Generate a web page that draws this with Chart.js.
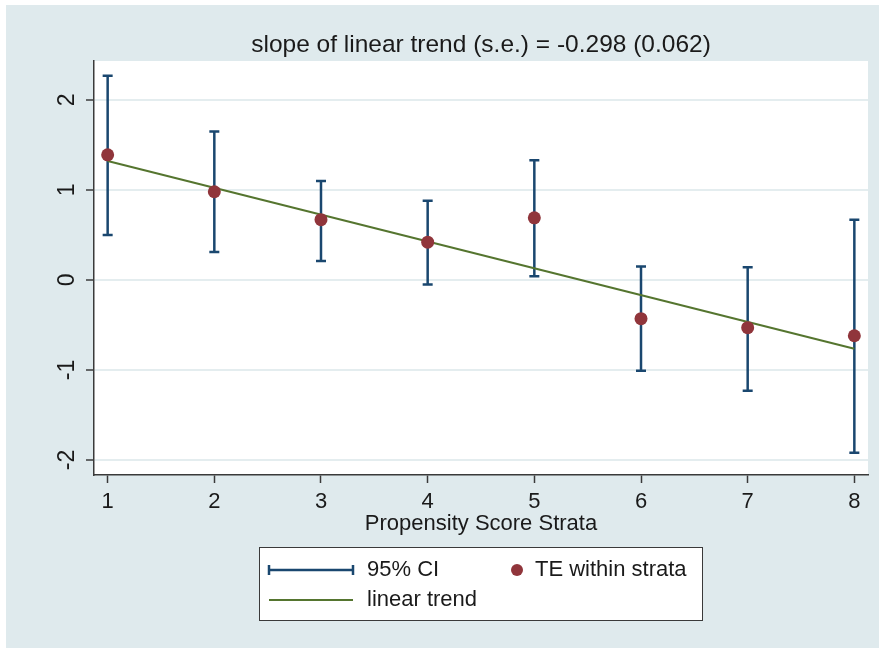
<!DOCTYPE html>
<html>
<head>
<meta charset="utf-8">
<script src="https://cdn.jsdelivr.net/npm/chart.js@4.4.0/dist/chart.umd.min.js"></script>
<style>
  html, body { margin: 0; padding: 0; background: #fff; }
  #wrap { width: 879px; height: 648px; }
</style>
</head>
<body>
<div id="wrap"><canvas id="chart" width="879" height="648"></canvas></div>
<script>
// Data
const strata = [1, 2, 3, 4, 5, 6, 7, 8];
const teValues = [1.39, 0.98, 0.67, 0.42, 0.69, -0.43, -0.53, -0.62];
const ciLower = [0.50, 0.31, 0.21, -0.05, 0.04, -1.01, -1.23, -1.92];
const ciUpper = [2.27, 1.65, 1.10, 0.88, 1.33, 0.15, 0.14, 0.67];
const trendX = [1, 8];
const trendY = [1.322, -0.764];
const xTicks = [1, 2, 3, 4, 5, 6, 7, 8];
const yTicks = [-2, -1, 0, 1, 2];

const titleText = 'slope of linear trend (s.e.) = -0.298 (0.062)';
const xTitle = 'Propensity Score Strata';

const FONT = "'Liberation Sans', Arial, sans-serif";
const TEXT = '#1a1a1a';
const NAVY = '#1a476f';
const MAROON = '#90353b';
const GREEN = '#55752f';
const BG = '#dfeaed';
const GRID = '#e4edef';
const AXIS = '#3a3a3a';

// Background: light outer region, white plot region
const backgroundPlugin = {
  id: 'background',
  beforeDraw(chart) {
    const { ctx, chartArea } = chart;
    ctx.save();
    ctx.fillStyle = '#ffffff';
    ctx.fillRect(0, 0, chart.width, chart.height);
    ctx.fillStyle = BG;
    ctx.fillRect(6, 5, chart.width - 6, chart.height - 5);
    ctx.fillStyle = '#ffffff';
    ctx.fillRect(chartArea.left, chartArea.top, chartArea.right - chartArea.left, chartArea.bottom - chartArea.top);
    ctx.restore();
  }
};

// 95% CI capped spikes, drawn under the line and points
const ciPlugin = {
  id: 'ciBars',
  beforeDatasetsDraw(chart) {
    const { ctx } = chart;
    const xs = chart.scales.x;
    const ys = chart.scales.y;
    ctx.save();
    ctx.strokeStyle = NAVY;
    ctx.lineWidth = 2.5;
    strata.forEach((s, i) => {
      const px = xs.getPixelForValue(s);
      const lo = ys.getPixelForValue(ciLower[i]);
      const hi = ys.getPixelForValue(ciUpper[i]);
      ctx.beginPath();
      ctx.moveTo(px, lo);
      ctx.lineTo(px, hi);
      ctx.moveTo(px - 5, lo);
      ctx.lineTo(px + 5, lo);
      ctx.moveTo(px - 5, hi);
      ctx.lineTo(px + 5, hi);
      ctx.stroke();
    });
    ctx.restore();
  }
};

// Title, rotated y tick labels and the boxed legend
const overlayPlugin = {
  id: 'overlay',
  afterDraw(chart) {
    const { ctx, chartArea } = chart;
    const ys = chart.scales.y;
    ctx.save();

    // title
    ctx.fillStyle = TEXT;
    ctx.font = '24.5px ' + FONT;
    ctx.textAlign = 'center';
    ctx.textBaseline = 'middle';
    ctx.fillText(titleText, (chartArea.left + chartArea.right) / 2, 45);

    // y tick labels, rotated like Stata
    ctx.font = '23px ' + FONT;
    yTicks.forEach(v => {
      const py = ys.getPixelForValue(v);
      ctx.save();
      ctx.translate(68, py);
      ctx.rotate(-Math.PI / 2);
      ctx.fillText(String(v), 0, 0);
      ctx.restore();
    });

    // legend box
    ctx.fillStyle = '#ffffff';
    ctx.fillRect(259, 547, 443, 73);
    ctx.strokeStyle = AXIS;
    ctx.lineWidth = 1;
    ctx.strokeRect(259.5, 547.5, 443, 73);

    // 95% CI key
    ctx.strokeStyle = NAVY;
    ctx.lineWidth = 2.5;
    ctx.beginPath();
    ctx.moveTo(269, 570);
    ctx.lineTo(353, 570);
    ctx.moveTo(269, 565);
    ctx.lineTo(269, 575);
    ctx.moveTo(353, 565);
    ctx.lineTo(353, 575);
    ctx.stroke();

    // linear trend key
    ctx.strokeStyle = GREEN;
    ctx.lineWidth = 2;
    ctx.beginPath();
    ctx.moveTo(269, 600);
    ctx.lineTo(353, 600);
    ctx.stroke();

    // TE key
    ctx.fillStyle = MAROON;
    ctx.beginPath();
    ctx.arc(517, 570, 6, 0, Math.PI * 2);
    ctx.fill();

    ctx.fillStyle = TEXT;
    ctx.font = '22px ' + FONT;
    ctx.textAlign = 'left';
    ctx.fillText('95% CI', 367, 570);
    ctx.fillText('TE within strata', 535, 570);
    ctx.fillText('linear trend', 367, 600);

    ctx.restore();
  }
};

const ctx = document.getElementById('chart').getContext('2d');
window.teChart = new Chart(ctx, {
  type: 'scatter',
  data: {
    datasets: [
      {
        label: 'TE within strata',
        data: strata.map((s, i) => ({ x: s, y: teValues[i] })),
        backgroundColor: MAROON,
        borderWidth: 0,
        pointRadius: 6.5,
        order: 0
      },
      {
        type: 'line',
        label: 'linear trend',
        data: trendX.map((s, i) => ({ x: s, y: trendY[i] })),
        borderColor: GREEN,
        borderWidth: 2,
        pointRadius: 0,
        fill: false,
        order: 1
      }
    ]
  },
  options: {
    responsive: false,
    animation: false,
    layout: {
      padding: { left: 44, right: 11, top: 61, bottom: 110 }
    },
    plugins: {
      legend: { display: false },
      tooltip: { enabled: false },
      title: { display: false }
    },
    scales: {
      x: {
        type: 'linear',
        min: 0.872,
        max: 8.128,
        afterBuildTicks: scale => { scale.ticks = xTicks.map(v => ({ value: v })); },
        afterFit: scale => { scale.height = 63; },
        grid: {
          drawOnChartArea: false,
          drawTicks: true,
          tickLength: 8,
          tickColor: AXIS,
          tickWidth: 1.5
        },
        border: { display: true, color: AXIS, width: 1.5 },
        ticks: {
          color: TEXT,
          font: { family: FONT, size: 22 },
          padding: 6,
          maxRotation: 0,
          autoSkip: false
        },
        title: {
          display: true,
          text: xTitle,
          color: TEXT,
          font: { family: FONT, size: 22 },
          padding: { top: 0, bottom: 1 }
        }
      },
      y: {
        type: 'linear',
        min: -2.167,
        max: 2.433,
        afterBuildTicks: scale => { scale.ticks = yTicks.map(v => ({ value: v })); },
        afterFit: scale => { scale.width = 50; },
        grid: {
          color: GRID,
          lineWidth: 2,
          drawTicks: true,
          tickLength: 8,
          tickColor: AXIS,
          tickWidth: 1.5
        },
        border: { display: true, color: AXIS, width: 1.5 },
        ticks: { display: false }
      }
    }
  },
  plugins: [backgroundPlugin, ciPlugin, overlayPlugin]
});
</script>
</body>
</html>
